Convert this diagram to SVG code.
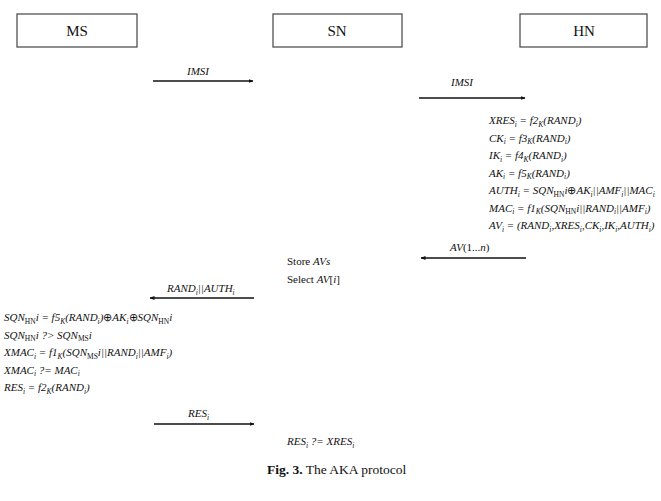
<svg xmlns="http://www.w3.org/2000/svg" width="661" height="501" viewBox="0 0 661 501">
<style>
.box{fill:#fff;stroke:#444;stroke-width:1.2}
.hdr{font-family:"Liberation Serif","Times New Roman",serif;font-size:15px;text-anchor:middle;fill:#111}
.t{font-family:"Liberation Serif","Times New Roman",serif;font-size:11px;font-style:italic;fill:#111}
.u{font-style:normal}
.s{font-size:7.5px}
.cap{font-family:"Liberation Serif","Times New Roman",serif;font-size:13.5px;fill:#111}
.ar{stroke:#111;stroke-width:1.3;fill:none;marker-end:url(#ah)}
</style>
<defs>
<marker id="ah" viewBox="0 0 10 10" refX="9" refY="5" markerWidth="5" markerHeight="5" orient="auto" markerUnits="userSpaceOnUse">
<path d="M0,1 L10,5 L0,9 z" fill="#111"/>
</marker>
</defs>
<rect width="661" height="501" fill="#fff"/>
<g id="MS"><rect class="box" x="17" y="14" width="120" height="33"/><text class="hdr" x="77" y="36">MS</text></g>
<g id="SN"><rect class="box" x="273" y="14" width="129" height="33"/><text class="hdr" x="337" y="36">SN</text></g>
<g id="HN"><rect class="box" x="520" y="14" width="127" height="33"/><text class="hdr" x="584" y="36">HN</text></g>
<g id="connectors">
<line class="ar" x1="153" y1="81" x2="253" y2="81"/>
<line class="ar" x1="419" y1="98" x2="525" y2="98"/>
<line class="ar" x1="526" y1="258" x2="421" y2="258"/>
<line class="ar" x1="254" y1="298" x2="150" y2="298"/>
<line class="ar" x1="154" y1="424" x2="254" y2="424"/>
</g>
<g id="labels">
<text class="t" x="187" y="75">IMSI</text>
<text class="t" x="451" y="86">IMSI</text>
<text class="t" x="450" y="251">AV<tspan class="u">(1...</tspan>n<tspan class="u">)</tspan></text>
<text class="t" x="167" y="292">RAND<tspan class="s" dy="2.5">i</tspan><tspan dy="-2.5">||AUTH</tspan><tspan class="s" dy="2.5">i</tspan></text>
<text class="t" x="188" y="417">RES<tspan class="s" dy="2.5">i</tspan></text>
</g>
<g id="hn-text">
<text class="t" x="489" y="124">XRES<tspan class="s" dy="2.5">i</tspan><tspan dy="-2.5"> = f2</tspan><tspan class="s" dy="2.5">K</tspan><tspan dy="-2.5">(RAND</tspan><tspan class="s" dy="2.5">i</tspan><tspan dy="-2.5">)</tspan></text>
<text class="t" x="489" y="141.5">CK<tspan class="s" dy="2.5">i</tspan><tspan dy="-2.5"> = f3</tspan><tspan class="s" dy="2.5">K</tspan><tspan dy="-2.5">(RAND</tspan><tspan class="s" dy="2.5">i</tspan><tspan dy="-2.5">)</tspan></text>
<text class="t" x="489" y="159">IK<tspan class="s" dy="2.5">i</tspan><tspan dy="-2.5"> = f4</tspan><tspan class="s" dy="2.5">K</tspan><tspan dy="-2.5">(RAND</tspan><tspan class="s" dy="2.5">i</tspan><tspan dy="-2.5">)</tspan></text>
<text class="t" x="489" y="176.5">AK<tspan class="s" dy="2.5">i</tspan><tspan dy="-2.5"> = f5</tspan><tspan class="s" dy="2.5">K</tspan><tspan dy="-2.5">(RAND</tspan><tspan class="s" dy="2.5">i</tspan><tspan dy="-2.5">)</tspan></text>
<text class="t" x="489" y="194">AUTH<tspan class="s" dy="2.5">i</tspan><tspan dy="-2.5"> = SQN</tspan><tspan class="s u" dy="2.5">HN</tspan><tspan dy="-2.5">i<tspan class="u">⊕</tspan>AK</tspan><tspan class="s" dy="2.5">i</tspan><tspan dy="-2.5">||AMF</tspan><tspan class="s" dy="2.5">i</tspan><tspan dy="-2.5">||MAC</tspan><tspan class="s" dy="2.5">i</tspan></text>
<text class="t" x="489" y="211.5">MAC<tspan class="s" dy="2.5">i</tspan><tspan dy="-2.5"> = f1</tspan><tspan class="s" dy="2.5">K</tspan><tspan dy="-2.5">(SQN</tspan><tspan class="s u" dy="2.5">HN</tspan><tspan dy="-2.5">i||RAND</tspan><tspan class="s" dy="2.5">i</tspan><tspan dy="-2.5">||AMF</tspan><tspan class="s" dy="2.5">i</tspan><tspan dy="-2.5">)</tspan></text>
<text class="t" x="489" y="229">AV<tspan class="s" dy="2.5">i</tspan><tspan dy="-2.5"> = (RAND</tspan><tspan class="s" dy="2.5">i</tspan><tspan dy="-2.5">,XRES</tspan><tspan class="s" dy="2.5">i</tspan><tspan dy="-2.5">,CK</tspan><tspan class="s" dy="2.5">i</tspan><tspan dy="-2.5">,IK</tspan><tspan class="s" dy="2.5">i</tspan><tspan dy="-2.5">,AUTH</tspan><tspan class="s" dy="2.5">i</tspan><tspan dy="-2.5">)</tspan></text>
</g>
<g id="sn-text">
<text class="t" x="287" y="265"><tspan class="u">Store </tspan>AVs</text>
<text class="t" x="287" y="283"><tspan class="u">Select </tspan>AV<tspan class="u">[</tspan>i<tspan class="u">]</tspan></text>
<text class="t" x="287" y="445">RES<tspan class="s" dy="2.5">i</tspan><tspan dy="-2.5"> ?= XRES</tspan><tspan class="s" dy="2.5">i</tspan></text>
</g>
<g id="ms-text">
<text class="t" x="4" y="321">SQN<tspan class="s u" dy="2.5">HN</tspan><tspan dy="-2.5">i = f5</tspan><tspan class="s" dy="2.5">K</tspan><tspan dy="-2.5">(RAND</tspan><tspan class="s" dy="2.5">i</tspan><tspan dy="-2.5">)<tspan class="u">⊕</tspan>AK</tspan><tspan class="s" dy="2.5">i</tspan><tspan dy="-2.5" class="u">⊕</tspan><tspan>SQN</tspan><tspan class="s u" dy="2.5">HN</tspan><tspan dy="-2.5">i</tspan></text>
<text class="t" x="4" y="338.5">SQN<tspan class="s u" dy="2.5">HN</tspan><tspan dy="-2.5">i ?&gt; SQN</tspan><tspan class="s u" dy="2.5">MS</tspan><tspan dy="-2.5">i</tspan></text>
<text class="t" x="4" y="356">XMAC<tspan class="s" dy="2.5">i</tspan><tspan dy="-2.5"> = f1</tspan><tspan class="s" dy="2.5">K</tspan><tspan dy="-2.5">(SQN</tspan><tspan class="s u" dy="2.5">MS</tspan><tspan dy="-2.5">i||RAND</tspan><tspan class="s" dy="2.5">i</tspan><tspan dy="-2.5">||AMF</tspan><tspan class="s" dy="2.5">i</tspan><tspan dy="-2.5">)</tspan></text>
<text class="t" x="4" y="373.5">XMAC<tspan class="s" dy="2.5">i</tspan><tspan dy="-2.5"> ?= MAC</tspan><tspan class="s" dy="2.5">i</tspan></text>
<text class="t" x="4" y="391">RES<tspan class="s" dy="2.5">i</tspan><tspan dy="-2.5"> = f2</tspan><tspan class="s" dy="2.5">K</tspan><tspan dy="-2.5">(RAND</tspan><tspan class="s" dy="2.5">i</tspan><tspan dy="-2.5">)</tspan></text>
</g>
<text class="cap" x="267" y="474"><tspan font-weight="bold">Fig. 3.</tspan> The AKA protocol</text>
</svg>
